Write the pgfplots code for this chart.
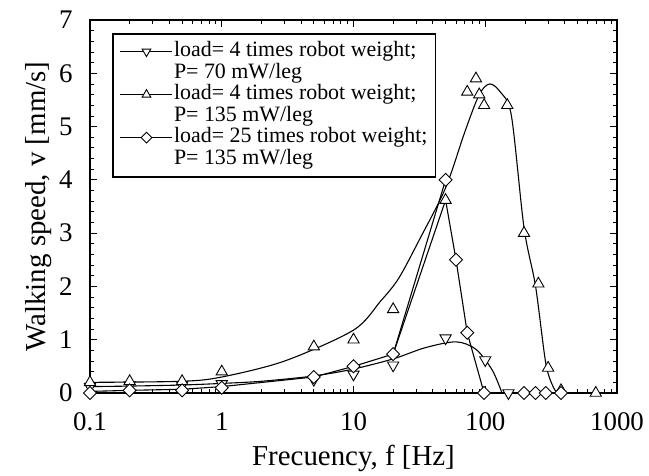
\documentclass[border=0pt]{standalone}
\usepackage{fontspec}
\setmainfont{Liberation Serif}
\usepackage{pgfplots}
\pgfplotsset{compat=1.18}
\begin{document}
\begin{tikzpicture}
\begin{axis}[
  scale only axis, width=527bp, height=373bp,
  xmode=log, xmin=0.1, xmax=1000, ymin=0, ymax=7,
  xtick={0.1,1,10,100,1000}, xticklabels={0.1,1,10,100,1000},
  ytick={0,1,2,3,4,5,6,7},
  minor y tick num=4,
  tick style={black, line width=0.8pt},
  major tick length=7bp, minor tick length=4bp,
  axis line style={line width=1.2pt},
  /pgf/number format/assume math mode=true,
  ticklabel style={font=\fontsize{27}{27}\selectfont},
  yticklabel style={xshift=-14bp},
  xticklabel style={yshift=-16bp},
  label style={font=\fontsize{29}{29}\selectfont},
  xlabel={Frecuency, f [Hz]}, ylabel={Walking speed, v [mm/s]},
  xlabel style={yshift=-8bp},
  ylabel style={yshift=0bp},
  every axis plot/.append style={black, line width=1.1pt},
  legend style={at={(axis description cs:0.042,0.965)}, anchor=north west,
    draw=black, line width=1.6pt, font=\fontsize{22}{22}\selectfont,
    row sep=0bp, inner sep=7bp,
    nodes={inner sep=1bp, text height=15bp, text depth=4.5bp}},
  legend cell align=left,
  legend image code/.code={\draw[mark repeat=2,mark phase=2] plot coordinates {(0bp,0bp) (26bp,0bp) (52bp,0bp)};},
]
\coordinate (ll) at (rel axis cs:0,0);
\coordinate (ur) at (rel axis cs:1,1);
% legend entries
\addlegendimage{black, line width=1.1pt, mark=triangle*, mark size=5bp, mark options={rotate=180, fill=white, line width=0.9pt}}
\addlegendentry{load= 4 times robot weight;}
\addlegendimage{empty legend}
\addlegendentry{P= 70 mW/leg}
\addlegendimage{black, line width=1.1pt, mark=triangle*, mark size=5bp, mark options={fill=white, line width=0.9pt}}
\addlegendentry{load= 4 times robot weight;}
\addlegendimage{empty legend}
\addlegendentry{P= 135 mW/leg}
\addlegendimage{black, line width=1.1pt, mark=square*, mark size=3.8bp, mark options={rotate=45, fill=white, line width=0.9pt}}
\addlegendentry{load= 25 times robot weight;}
\addlegendimage{empty legend}
\addlegendentry{P= 135 mW/leg}
% curve A: load 4, 70 mW
\addplot[smooth, forget plot, tension=0.5] coordinates {
(0.1,0.12) (0.2,0.13) (0.5,0.15) (1,0.18) (2,0.22) (5,0.32) (10,0.45) (20,0.64) (35,0.85) (60,0.96) (85,0.82) (113,0.43) (134,0)};
% curve B: load 4, 135 mW
\addplot[smooth, forget plot, tension=0.5] coordinates {
(0.1,0.2) (0.5,0.22) (1,0.3) (3,0.6) (10,1.18) (16,1.72) (22,2.15) (32,2.9) (50,3.85) (70,4.9) (90,5.6) (108,5.8) (130,5.65) (158,5.2) (197,3.1) (241,2.0) (288,0.56) (330,0.1) (360,0)};
% lines C: load 25, 135 mW
\addplot[forget plot] coordinates {
(0.1,0.03) (0.2,0.05) (0.5,0.07) (1,0.12) (5,0.3) (10,0.5) (20,0.73) (50,4.0)};
\addplot[forget plot] coordinates {
(20,0.73) (50,3.62) (60,2.5) (73,1.13) (98,0)};
% marks A
\addplot[only marks, forget plot, mark=triangle*, mark size=6.5bp, mark options={rotate=180, fill=white, line width=0.9pt}] coordinates {
(0.1,0.12) (0.2,0.15) (0.5,0.15) (1,0.17) (5,0.25) (10,0.35) (20,0.52) (50,1.03) (100,0.62) (150,0)};
% marks B
\addplot[only marks, forget plot, mark=triangle*, mark size=6.5bp, mark options={fill=white, line width=0.9pt}] coordinates {
(0.1,0.2) (0.2,0.22) (0.5,0.22) (1,0.4) (5,0.87) (10,1.0) (20,1.57) (50,3.62) (73,5.65) (85,5.9) (90,5.6) (98,5.4) (147,5.4) (197,3.0) (253,2.05) (300,0.47) (376,0.05) (690,0)};
% marks C
\addplot[only marks, forget plot, mark=square*, mark size=4.6bp, mark options={rotate=45, fill=white, line width=0.9pt}] coordinates {
(0.1,0.0) (0.2,0.05) (0.5,0.05) (1,0.1) (5,0.3) (10,0.5) (20,0.73) (50,4.0) (60,2.5) (73,1.13) (98,0) (197,0) (241,0) (288,0) (376,0)};
\end{axis}
\pgfresetboundingbox
\path[use as bounding box] ([shift={(-90bp,-83bp)}]ll) rectangle ([shift={(32bp,20bp)}]ur);
\end{tikzpicture}
\end{document}
